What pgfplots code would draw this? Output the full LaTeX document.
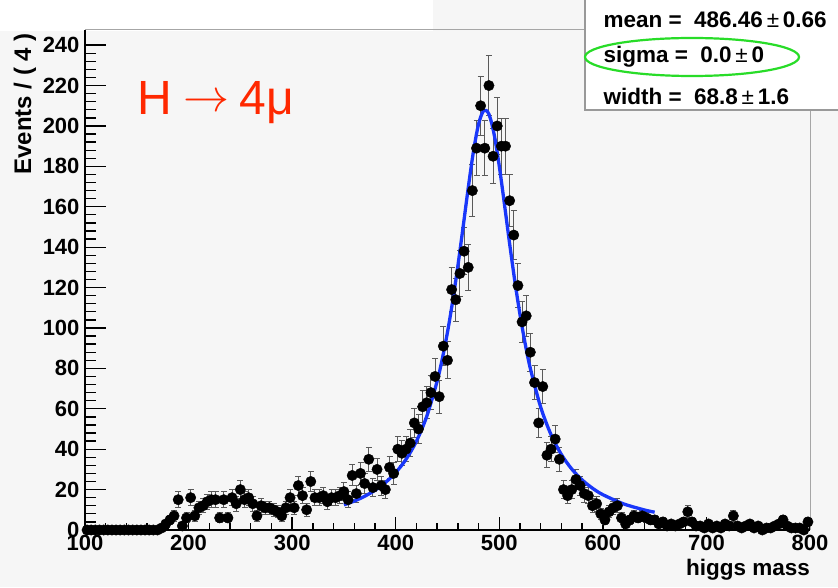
\documentclass[border=0pt]{standalone}
\usepackage{pgfplots}
\pgfplotsset{compat=1.18}
\usepackage{pgfplotstable}
\usepackage{graphicx}
\usepackage{fontspec}
\setmainfont{Liberation Sans}
\definecolor{bg}{RGB}{246,246,246}
\definecolor{fitblue}{RGB}{25,55,250}
\definecolor{hred}{RGB}{255,40,0}
\definecolor{ellgreen}{RGB}{40,220,40}
\definecolor{errgray}{RGB}{90,90,90}

\pgfplotstableread[row sep=\\]{
x y\\
102 0\\106 0\\110 0\\114 0\\118 0\\122 0\\126 0\\130 0\\134 0\\138 0\\142 0\\146 0\\150 0\\154 0\\158 0\\162 0\\166 0\\170 0\\
174 1\\178 3\\182 5\\186 7\\190 15\\194 2\\198 6\\202 16\\206 7\\210 11\\214 12\\218 14\\222 15\\226 15\\230 6\\234 15\\238 6\\242 16\\246 13\\250 20\\
254 15\\258 16\\262 13\\266 7\\270 12\\274 11\\278 11\\282 10\\286 9\\290 7\\294 11\\298 16\\302 11\\306 22\\310 17\\314 10\\318 24\\322 16\\326 16\\330 17\\
334 14\\338 16\\342 16\\346 17\\350 19\\354 15\\358 27\\362 18\\366 28\\370 23\\374 35\\378 21\\382 30\\386 22\\390 20\\394 31\\398 28\\402 40\\406 38\\410 40\\
414 43\\418 53\\422 50\\426 61\\430 63\\434 68\\438 76\\442 66\\446 91\\450 84\\454 119\\458 114\\462 127\\466 138\\470 130\\474 168\\478 189\\482 210\\486 189\\490 220\\
494 185\\498 200\\502 190\\506 190\\510 163\\514 146\\518 121\\522 103\\526 106\\530 88\\534 73\\538 53\\542 71\\546 37\\550 40\\554 45\\558 35\\562 20\\566 17\\570 20\\
574 25\\578 22\\582 18\\586 17\\590 12\\594 13\\598 8\\602 5\\606 9\\610 11\\614 12\\618 6\\622 3\\626 5\\630 7\\634 6\\638 7\\642 6\\646 5\\650 5\\
654 3\\658 4\\662 2\\666 3\\670 2\\674 3\\678 4\\682 9\\686 4\\690 2\\694 2\\698 1\\702 3\\706 1\\710 2\\714 1\\718 3\\722 2\\726 7\\730 2\\
734 1\\738 2\\742 3\\746 1\\750 2\\754 0\\758 1\\762 1\\766 2\\770 3\\774 5\\778 2\\782 1\\786 1\\790 1\\794 0\\798 4\\
}\data

\begin{document}
\begin{tikzpicture}[x=1pt,y=1pt]
\path[use as bounding box] (0,0) rectangle (838,587);
\fill[bg] (0,0) rectangle (838,587);
\fill[white] (0,556) rectangle (433,587);
\begin{axis}[
  at={(85pt,57pt)}, anchor=south west,
  scale only axis, width=725pt, height=500pt,
  xmin=100, xmax=800, ymin=0, ymax=247.5,
  axis lines=left, axis line style={-, line width=1.6pt, black},
  xtick={100,200,...,800}, ytick={0,20,...,240},
  minor x tick num=4, minor y tick num=4,
  tick align=inside,
  xtick style={black, line width=1.3pt, /pgfplots/major tick length=13pt, /pgfplots/minor tick length=7pt},
  ytick style={black, line width=1.3pt, /pgfplots/major tick length=21pt, /pgfplots/minor tick length=11pt},
  /pgf/number format/assume math mode=true,
  /pgf/number format/1000 sep={},
  ticklabel style={font=\fontsize{22}{22}\selectfont\bfseries},
  xticklabel style={yshift=-2pt},
  yticklabel style={xshift=-2pt},
  clip=false,
]
\addplot[only marks, mark=*, mark size=5.2pt, black,
  error bars/.cd, y dir=both, y explicit,
  error bar style={errgray, line width=1pt},
  error mark options={rotate=90, errgray, mark size=3pt, line width=1pt}]
  table[x=x, y=y, y error expr={sqrt(\thisrow{y})}] {\data};
\addplot[fitblue, line width=3.3pt, smooth] coordinates {
(350,12.43) (360,14.33) (370,16.69) (380,19.66) (390,23.47) (400,28.43)
(410,35.02) (420,43.95) (430,56.31) (440,73.65) (445,84.81) (450,97.96)
(455,113.27) (460,130.69) (465,149.73) (470,169.25) (475,187.22) (480,200.91)
(485,207.63) (490,205.82) (495,195.92) (500,180.10) (505,161.18) (510,141.66)
(515,123.20) (520,106.63) (525,92.23) (530,79.94) (540,60.78) (550,47.15)
(560,37.34) (570,30.16) (580,24.78) (590,20.68) (600,17.49) (620,12.94)
(640,9.94) (650,8.81)};
\draw[gray!70, line width=1pt] (rel axis cs:0,1) -- (rel axis cs:1,1) -- (rel axis cs:1,0);
\end{axis}
% stats box
\fill[white] (585,477) rectangle (840,590);
\draw[gray!80, line width=1.2pt] (585,590) -- (585,477) -- (840,477);
\node[anchor=base west, font=\fontsize{22.5}{22.5}\selectfont\bfseries] at (600,559) {mean =\ \ 486.46\,{\mdseries ±}\,0.66};
\node[anchor=base west, font=\fontsize{22.5}{22.5}\selectfont\bfseries] at (600,524) {sigma =\ \ 0.0\,{\mdseries ±}\,0};
\node[anchor=base west, font=\fontsize{22.5}{22.5}\selectfont\bfseries] at (600,482) {width =\ \ 68.8\,{\mdseries ±}\,1.6};
\draw[ellgreen, line width=2.2pt] (692,530) ellipse [x radius=107, y radius=19];
% annotation
\node[anchor=base west, text=hred, font=\fontsize{48}{48}\selectfont, inner sep=0pt] at (137,472) {H\hspace{12pt}\raisebox{3pt}{\scalebox{4.6}{\fontsize{10}{10}\selectfont$\rightarrow$}}\hspace{10pt}4μ};
% axis titles
\node[rotate=90, anchor=east, font=\fontsize{24}{24}\selectfont\bfseries, inner sep=0pt] at (25,554) {Events / ( 4 )};
\node[anchor=base east, font=\fontsize{22.5}{22.5}\selectfont\bfseries, inner sep=0pt] at (810,12) {higgs mass};
\end{tikzpicture}
\end{document}
